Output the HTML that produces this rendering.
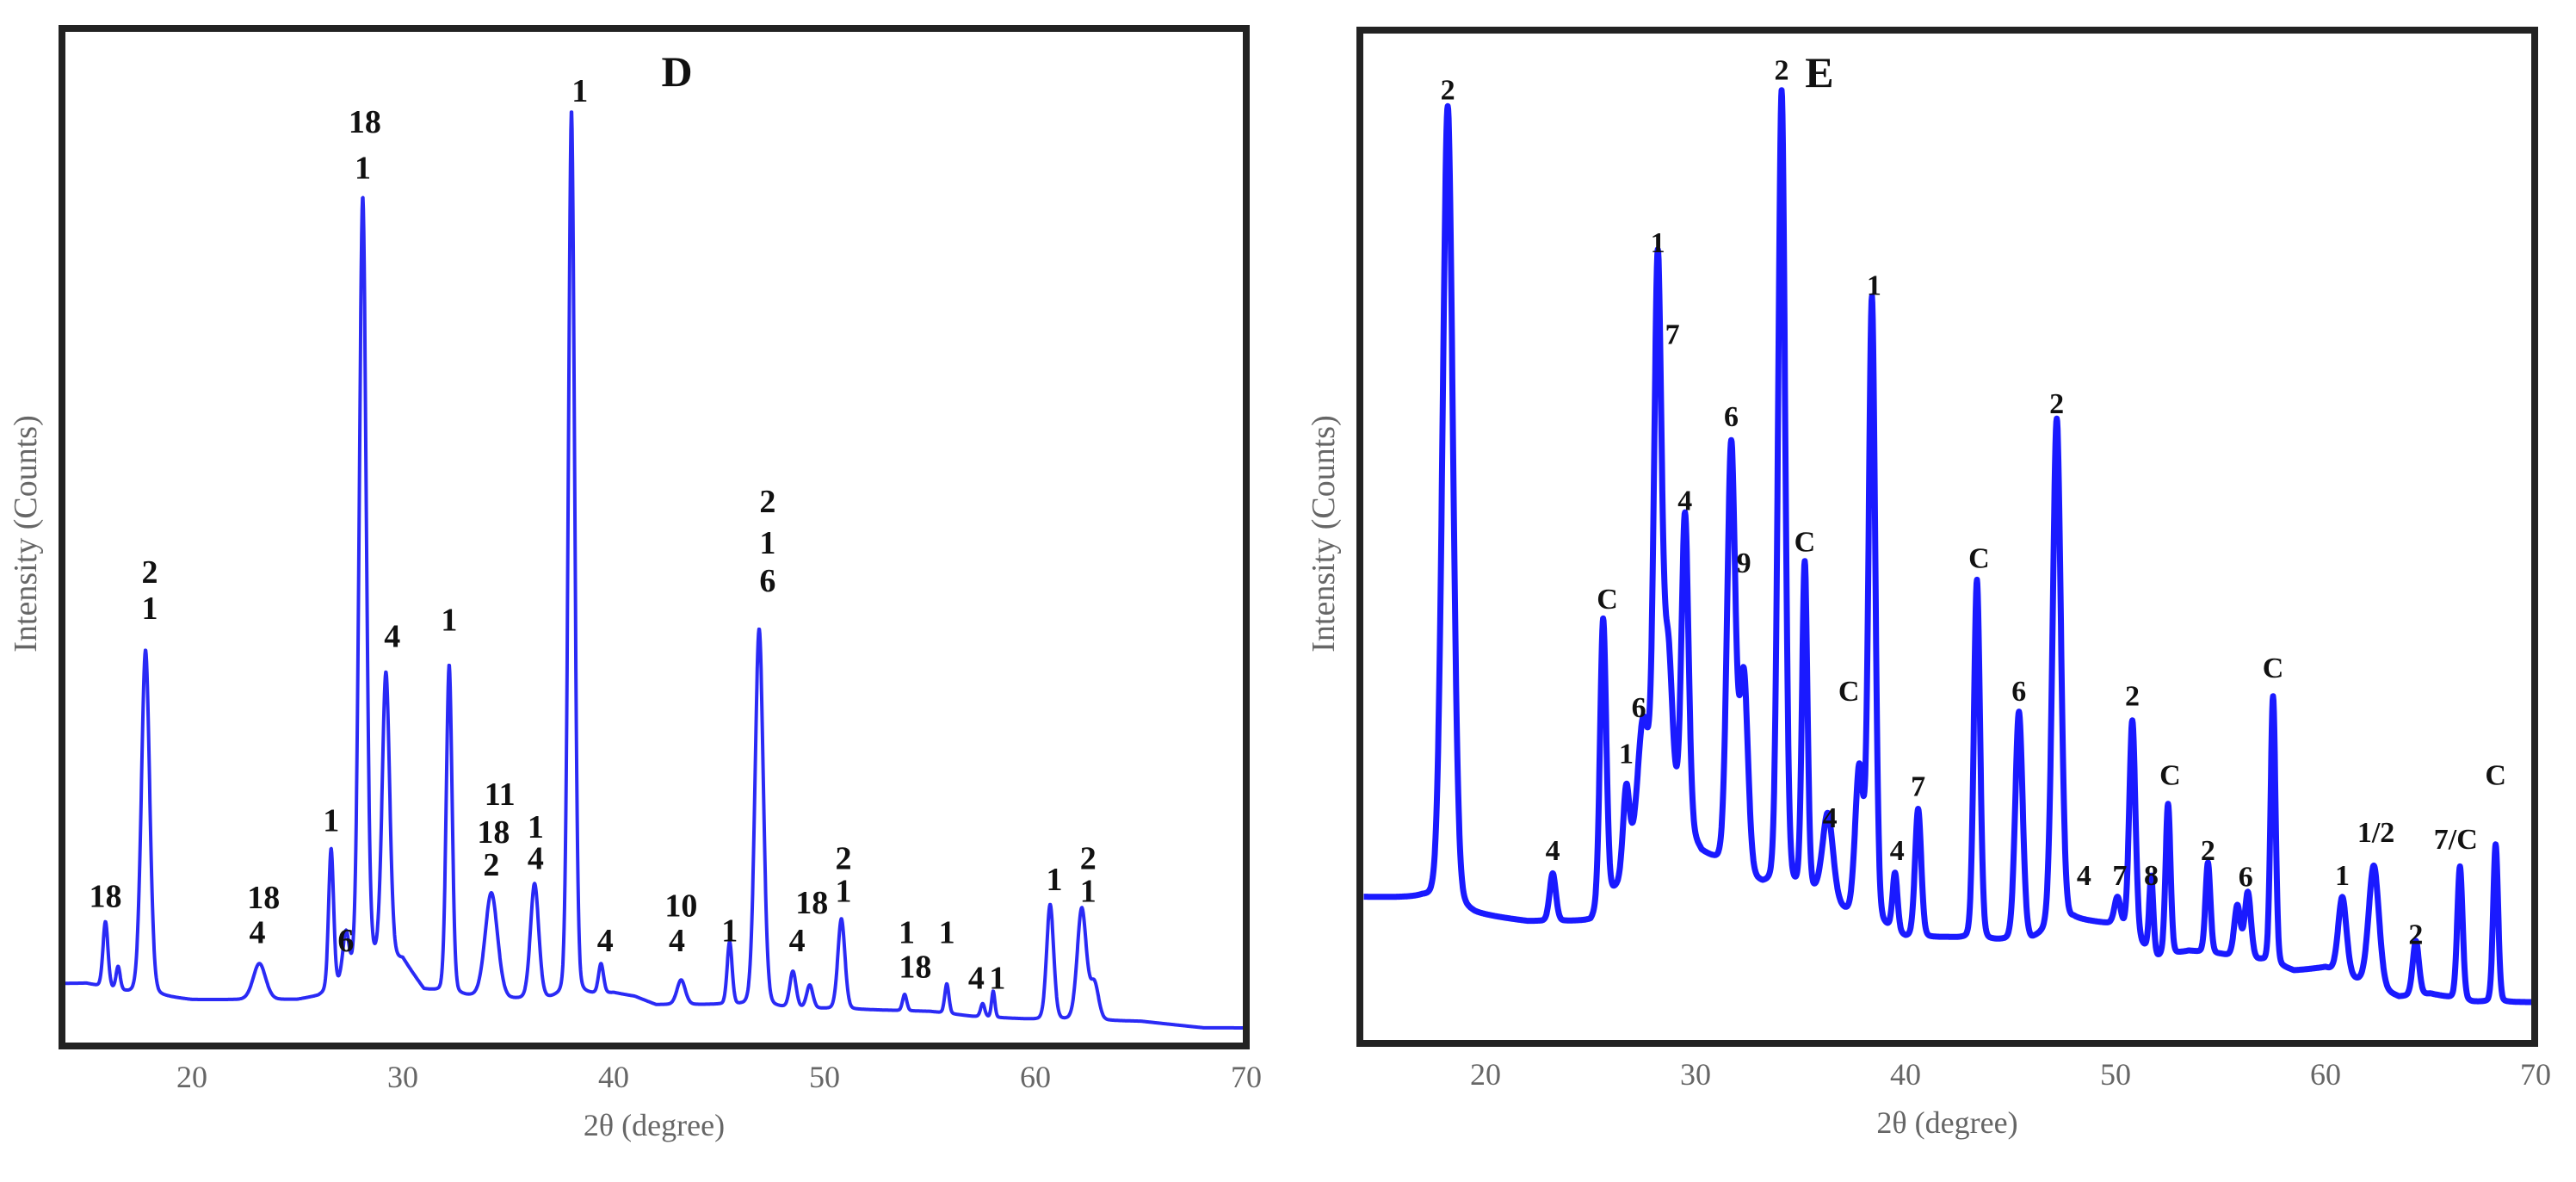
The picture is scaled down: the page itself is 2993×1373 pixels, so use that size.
<!DOCTYPE html>
<html><head><meta charset="utf-8"><style>
html,body{margin:0;padding:0;background:#fff;}
svg{display:block;}
</style></head><body>
<svg id="chart" width="2993" height="1373" viewBox="0 0 2993 1373" xmlns="http://www.w3.org/2000/svg">
<rect width="2993" height="1373" fill="#fff"/>
<g id="panelD"></g>
<g id="panelE"></g>
</svg>
<script>
// ---------- Panel D data ----------
const dBaseX = [14,15,17,18.5,20,25,26,27.5,28.5,30,31,33,35,37,40,41,42,45,48,52,55,57,60,65,68,70];
const dBaseY = [38,38,32,30,28,28,30,40,50,52,34,30,28,28,32,30,25,25,23,22,21,18,16,15,11,11];
const dPeakPos = [15.9,16.5,17.8,23.2,26.6,27.3,28.1,29.2,32.2,34.2,36.25,38.0,39.4,43.2,45.5,46.9,48.5,49.3,50.8,53.8,55.8,57.5,58.0,60.7,62.2,62.8];
const dPeakH   = [40,14,210,22,85,28,470,175,200,64,70,540,18,15,38,230,22,14,55,10,18,8,16,70,68,22];
const dPeakW   = [.12,.1,.2,.3,.12,.15,.17,.18,.14,.3,.2,.15,.12,.2,.12,.2,.15,.15,.17,.1,.1,.1,.08,.17,.22,.2];
const dLabelText = ["18","2","1","18","4","1","6","18","1","4","1","11","18","2","1","4","1","4","10","4","1","2","1","6","18","4","2","1","1","18","1","4","1","1","2","1"];
const dLabelX = [15.9,18.0,18.0,23.4,23.1,26.6,27.3,28.2,28.1,29.5,32.2,34.6,34.3,34.2,36.3,36.3,38.4,39.6,43.2,43.0,45.5,47.3,47.3,47.3,49.4,48.7,50.9,50.9,53.9,54.3,55.8,57.2,58.2,60.9,62.5,62.5];
const dLabelY = [91,288,266,90,69,137,64,562,534,249,259,153,130,110,133,114,581,64,85,64,70,331,306,283,87,64,114,94,69,48,69,41,41,101,114,94];

// ---------- Panel E data ----------
const eBaseX = [14,17,19.5,22,25,26.3,27.3,28.5,30.3,31,33.2,34,35.9,37.3,39,40,42,44,46,48,50,52,53.5,55,57,58.5,60,61.5,63.5,65,67,70];
const eBaseY = [89,88,78,74,74,95,125,150,115,110,95,95,90,78,70,64,64,62,62,75,72,52,56,54,50,44,46,38,28,30,25,25];
const ePeakPos = [18.2,23.2,25.6,26.7,27.5,28.2,28.7,29.5,31.7,32.3,34.1,35.2,36.3,37.8,38.4,39.5,40.6,43.4,45.4,47.2,50.1,50.8,51.7,52.5,54.4,55.8,56.3,57.5,60.8,62.3,64.3,66.4,68.1];
const ePeakH   = [487,29,174,48,65,331,90,190,258,120,484,199,52,90,379,35,78,219,139,310,17,132,46,92,55,31,40,163,47,74,33,81,96];
const ePeakW   = [.25,.15,.15,.15,.25,.18,.2,.17,.2,.2,.17,.13,.25,.2,.16,.12,.15,.15,.18,.2,.15,.15,.1,.12,.12,.15,.15,.12,.2,.25,.15,.13,.12];
const eLabelText = ["2","2","1","7","6","4","9","C","C","6","1","C","4","1","4","7","C","6","2","2","C","C","C","4","7","8","2","6","4","1","1/2","2","7/C"];
const eLabelX = [18.2,34.1,28.2,28.9,31.7,29.5,32.3,35.2,25.8,27.3,26.7,37.3,36.4,38.5,39.6,40.6,43.5,45.4,47.2,50.8,52.6,57.5,68.1,48.5,50.2,51.7,54.4,56.2,23.2,60.8,62.4,64.3,66.2];
const eLabelY = [580,592,487,431,381,330,292,305,270,204,176,214,137,461,117,156,295,214,389,211,163,228,163,102,102,102,117,101,117,102,128,66,124];

const NS = "http://www.w3.org/2000/svg";
function mk(tag, attrs, parent){ const e=document.createElementNS(NS,tag); for(const k in attrs) e.setAttribute(k,attrs[k]); parent.appendChild(e); return e; }

function interp(xs, ys, x){
  if(x<=xs[0]) return ys[0];
  for(let i=1;i<xs.length;i++){ if(x<=xs[i]){ const t=(x-xs[i-1])/(xs[i]-xs[i-1]); return ys[i-1]+t*(ys[i]-ys[i-1]); } }
  return ys[ys.length-1];
}
function intensity(x, bx, by, pp, ph, pw){
  let v = interp(bx, by, x);
  for(let i=0;i<pp.length;i++){ const d=(x-pp[i])/pw[i]; v += ph[i]*(0.85*Math.exp(-0.5*d*d) + 0.15/(1+d*d)); }
  return v;
}

function drawPanel(g, cfg){
  const xS = d => cfg.x20 + (d-20)*cfg.ppd;
  const yS = c => cfg.y0 - c*cfg.ppc;
  // curve
  let path = "";
  for(let d=cfg.d0; d<=70; d+=0.02){
    const v = intensity(d, cfg.bx, cfg.by, cfg.pp, cfg.ph, cfg.pw);
    path += (path?"L":"M") + xS(d).toFixed(1) + " " + yS(v).toFixed(1);
  }
  const c = mk("path",{d:path,fill:"none",stroke:cfg.color,"stroke-width":cfg.sw,"stroke-linejoin":"round"},g);
  
  
  // frame
  const f = mk("rect",{x:cfg.left,y:cfg.top,width:cfg.right-cfg.left,height:cfg.y0-cfg.top,fill:"none",stroke:"#222","stroke-width":8},g);
  
  
  // ticks
  [20,30,40,50,60,70].forEach(t=>{
    const tx = mk("text",{x:xS(t),y:cfg.y0+48,"text-anchor":"middle","font-family":"Liberation Serif, serif","font-size":36,fill:"#666"},g);
    tx.textContent = t;
    
    
  });
  const xt = mk("text",{x:(cfg.left+cfg.right)/2,y:cfg.y0+104,"text-anchor":"middle","font-family":"Liberation Serif, serif","font-size":36,fill:"#666"},g);
  xt.textContent = "2θ (degree)";
  
  
  const yt = mk("text",{x:0,y:0,"text-anchor":"middle","font-family":"Liberation Serif, serif","font-size":38,fill:"#666",transform:"translate("+(cfg.left-30)+",620) rotate(-90)"},g);
  yt.textContent = "Intensity (Counts)";
  
  
  const tt = mk("text",{x:xS(cfg.titleX),y:yS(cfg.titleY),"text-anchor":"middle","dominant-baseline":"central","font-family":"Liberation Serif, serif","font-weight":"bold","font-size":50,fill:"#111"},g);
  tt.textContent = cfg.title;
  
  
  for(let i=0;i<cfg.lt.length;i++){
    const l = mk("text",{x:xS(cfg.lx[i]),y:yS(cfg.ly[i]),"text-anchor":"middle","dominant-baseline":"central","font-family":"Liberation Serif, serif","font-weight":"bold","font-size":cfg.fs,fill:"#111"},g);
    l.textContent = cfg.lt[i];
    
    
  }
}

drawPanel(document.getElementById("panelD"), {id:"d", x20:223, ppd:24.5, y0:1215, ppc:1.909, left:72, right:1448, top:33, d0:13.85,
  bx:dBaseX, by:dBaseY, pp:dPeakPos, ph:dPeakH, pw:dPeakW, color:"#2a2af5", sw:4,
  lt:dLabelText, lx:dLabelX, ly:dLabelY, fs:38, title:"D", titleX:43.0, titleY:593});
drawPanel(document.getElementById("panelE"), {id:"e", x20:1726, ppd:24.4, y0:1212, ppc:1.909, left:1580, right:2945, top:35, d0:14.2,
  bx:eBaseX, by:eBaseY, pp:ePeakPos, ph:ePeakH, pw:ePeakW, color:"#1a1aff", sw:7,
  lt:eLabelText, lx:eLabelX, ly:eLabelY, fs:34, title:"E", titleX:35.9, titleY:591});
</script>
</body></html>
